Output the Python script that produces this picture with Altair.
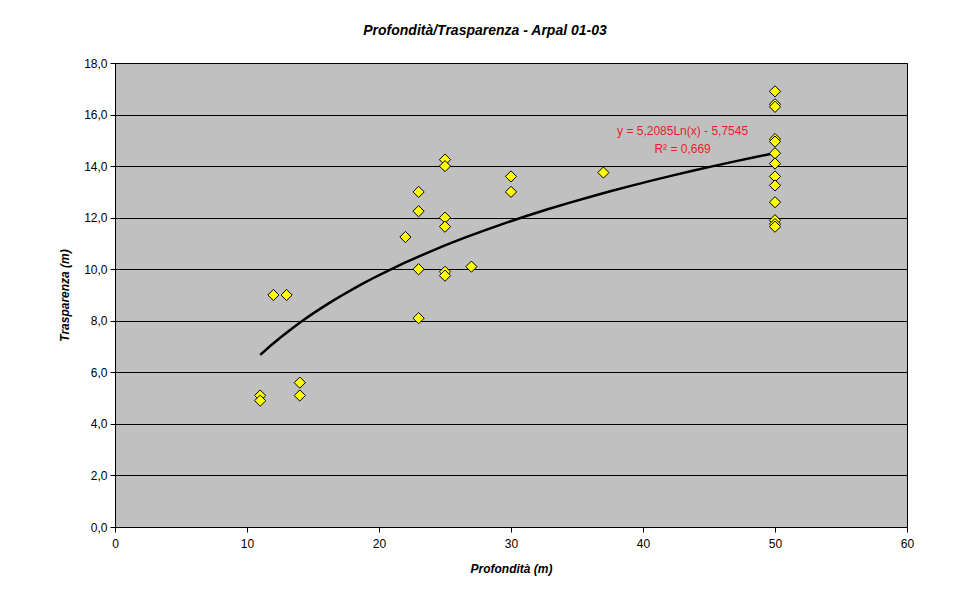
import altair as alt
import pandas as pd

# Data
profondita = [11, 11, 12, 13, 14, 14,
              22, 23, 23, 23, 23,
              25, 25, 25, 25, 25, 25,
              27, 30, 30, 37,
              50, 50, 50, 50, 50, 50, 50, 50, 50, 50, 50, 50, 50]
trasparenza = [5.1, 4.9, 9.0, 9.0, 5.6, 5.1,
               11.25, 13.0, 12.25, 10.0, 8.1,
               14.25, 14.0, 12.0, 11.65, 9.9, 9.75,
               10.1, 13.6, 13.0, 13.75,
               16.9, 16.4, 16.3, 15.05, 14.95, 14.5, 14.1, 13.6, 13.25, 12.6, 11.9, 11.75, 11.65]

eq_lines = ["y = 5,2085Ln(x) - 5,7545", "R² = 0,669"]
eq_x = [43.0, 43.0]
eq_y = [15.35, 14.65]

df = pd.DataFrame({"x": profondita, "y": trasparenza})
eq_df = pd.DataFrame({"label": eq_lines, "x": eq_x, "y": eq_y})

FONT = "Liberation Sans"

xscale = alt.Scale(domain=[0, 60], nice=False, zero=True)
yscale = alt.Scale(domain=[0, 18], nice=False, zero=True)

xaxis = alt.Axis(values=[0, 10, 20, 30, 40, 50, 60], grid=False, title="Profondità (m)",
                 titleFont=FONT, titleFontSize=12, titleFontStyle="italic", titleFontWeight="bold",
                 labelFont=FONT, labelFontSize=12, labelColor="black", titleColor="black",
                 tickColor="black", domainColor="black", tickSize=5, labelPadding=6,
                 titlePadding=14, labelFlush=False)
yaxis = alt.Axis(values=[0, 2, 4, 6, 8, 10, 12, 14, 16, 18], grid=True, gridColor="black",
                 gridWidth=1, title="Trasparenza (m)",
                 labelExpr="replace(format(datum.value, '.1f'), '.', ',')",
                 titleFont=FONT, titleFontSize=12, titleFontStyle="italic", titleFontWeight="bold",
                 labelFont=FONT, labelFontSize=12, labelColor="black", titleColor="black",
                 tickColor="black", domainColor="black", tickSize=5, labelPadding=3,
                 titlePadding=12, labelFlush=False)

points = alt.Chart(df).mark_point(
    shape="diamond", filled=True, fill="#FFFF00", stroke="black", strokeWidth=1,
    size=125, opacity=1
).encode(
    x=alt.X("x:Q", scale=xscale, axis=xaxis),
    y=alt.Y("y:Q", scale=yscale, axis=yaxis),
)

trend = alt.Chart(df).transform_regression(
    "x", "y", method="log"
).mark_line(color="black", strokeWidth=2.5).encode(
    x=alt.X("x:Q", scale=xscale),
    y=alt.Y("y:Q", scale=yscale),
)

eq_text = alt.Chart(eq_df).mark_text(
    font=FONT, fontSize=12, color="#E8202A", align="center", baseline="middle"
).encode(
    x=alt.X("x:Q", scale=xscale),
    y=alt.Y("y:Q", scale=yscale),
    text="label:N",
)

chart = alt.layer(trend, points, eq_text).properties(
    width=792, height=464,
    background="white",
    autosize=alt.AutoSizeParams(type="none"),
    padding={"left": 115, "top": 63, "right": 63, "bottom": 76},
    title=alt.TitleParams(
        "Profondità/Trasparenza - Arpal 01-03",
        font=FONT, fontSize=14, fontStyle="italic", fontWeight="bold", color="black",
        anchor="middle", offset=19, dx=-26,
    ),
).configure_view(
    fill="#C0C0C0", stroke="black", strokeWidth=1
)

chart.save("out.html", embed_options={"renderer": "svg", "actions": False})
